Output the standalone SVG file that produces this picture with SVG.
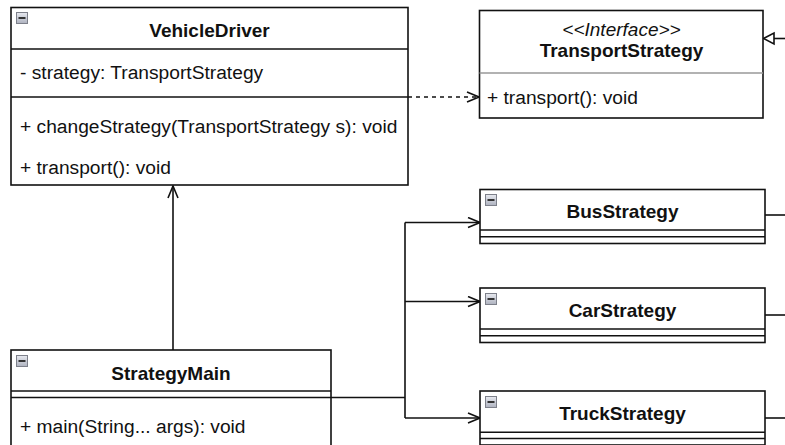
<svg xmlns="http://www.w3.org/2000/svg" width="785" height="445" viewBox="0 0 785 445">
<style>
.box{fill:#fff;stroke:#111;stroke-width:1.6}
.sep{stroke:#111;stroke-width:1.6;fill:none}
.title{font-family:"Liberation Sans",Arial,sans-serif;font-size:19px;font-weight:bold;fill:#111;text-anchor:middle}
.txt{font-family:"Liberation Sans",Arial,sans-serif;font-size:19.2px;fill:#111}
.ital{font-family:"Liberation Sans",Arial,sans-serif;font-size:19px;font-style:italic;fill:#111;text-anchor:middle}
.edge{stroke:#111;stroke-width:1.6;fill:none}
.dash{stroke-dasharray:4 4}
</style>
<defs>
<linearGradient id="ig" x1="0" y1="0" x2="0" y2="1">
<stop offset="0" stop-color="#e8eaf0"/>
<stop offset="1" stop-color="#aeb2bf"/>
</linearGradient>
<g id="icon">
<rect x="0.5" y="0.5" width="11" height="11" fill="url(#ig)" stroke="#7d808a" stroke-width="1"/>
<line x1="2.5" y1="6" x2="9.5" y2="6" stroke="#222" stroke-width="1.8"/>
</g>
<marker id="open" viewBox="0 0 14 12" refX="13" refY="6" markerWidth="14" markerHeight="12" markerUnits="userSpaceOnUse" orient="auto">
<path d="M1,1 L13,6 L1,11" fill="none" stroke="#111" stroke-width="1.6"/>
</marker>
</defs>

<g id="connectors">
<path class="edge dash" d="M408,97 L479,97" marker-end="url(#open)"/>
<path class="edge" d="M173,350 L173,186" marker-end="url(#open)"/>
<path class="edge" d="M331,397.5 L405,397.5"/>
<path class="edge" d="M405,222.5 L405,418"/>
<path class="edge" d="M405,222.5 L480,222.5" marker-end="url(#open)"/>
<path class="edge" d="M405,301.5 L480,301.5" marker-end="url(#open)"/>
<path class="edge" d="M405,418 L480,418" marker-end="url(#open)"/>
<path class="edge" d="M765,215 L785,215"/>
<path class="edge" d="M765,315 L785,315"/>
<path class="edge" d="M765,418 L785,418"/>
<path class="edge" d="M785,38.5 L774,38.5"/>
<path d="M763.5,38.5 L774,33 L774,44 Z" fill="#fff" stroke="#111" stroke-width="1.6"/>
</g>

<g id="VehicleDriver">
<rect class="box" x="11" y="7.5" width="397" height="177.5"/>
<line class="sep" x1="11" y1="49" x2="408" y2="49"/>
<line class="sep" x1="11" y1="97" x2="408" y2="97"/>
<use href="#icon" x="16" y="12"/>
<text class="title" x="209.5" y="36.5">VehicleDriver</text>
<text class="txt" x="20" y="78.5">- strategy: TransportStrategy</text>
<text class="txt" x="20" y="132.5">+ changeStrategy(TransportStrategy s): void</text>
<text class="txt" x="20" y="173.5">+ transport(): void</text>
</g>

<g id="TransportStrategy">
<rect class="box" x="479.5" y="10.5" width="283.5" height="107.5"/>
<line x1="479.5" y1="73" x2="763" y2="73" stroke="#999" stroke-width="1.6"/>
<text class="ital" x="621.5" y="35.5">&lt;&lt;Interface&gt;&gt;</text>
<text class="title" x="621.5" y="57">TransportStrategy</text>
<text class="txt" x="487" y="103.5">+ transport(): void</text>
</g>

<g id="BusStrategy">
<rect class="box" x="480" y="189.5" width="285" height="54"/>
<line class="sep" x1="480" y1="230" x2="765" y2="230"/>
<line class="sep" x1="480" y1="236.7" x2="765" y2="236.7"/>
<use href="#icon" x="485" y="194"/>
<text class="title" x="622.5" y="218">BusStrategy</text>
</g>

<g id="CarStrategy">
<rect class="box" x="480" y="288" width="285" height="54.5"/>
<line class="sep" x1="480" y1="329" x2="765" y2="329"/>
<line class="sep" x1="480" y1="335.7" x2="765" y2="335.7"/>
<use href="#icon" x="485" y="293"/>
<text class="title" x="622.5" y="317">CarStrategy</text>
</g>

<g id="TruckStrategy">
<rect class="box" x="480" y="391" width="285" height="54"/>
<line class="sep" x1="480" y1="432.3" x2="765" y2="432.3"/>
<line class="sep" x1="480" y1="438.5" x2="765" y2="438.5"/>
<use href="#icon" x="485" y="396"/>
<text class="title" x="622.5" y="420">TruckStrategy</text>
</g>

<g id="StrategyMain">
<rect class="box" x="11" y="350" width="320" height="100"/>
<line class="sep" x1="11" y1="391" x2="331" y2="391"/>
<line class="sep" x1="11" y1="397.5" x2="331" y2="397.5"/>
<use href="#icon" x="16" y="355"/>
<text class="title" x="171" y="380">StrategyMain</text>
<text class="txt" x="20" y="433">+ main(String... args): void</text>
</g>
</svg>
